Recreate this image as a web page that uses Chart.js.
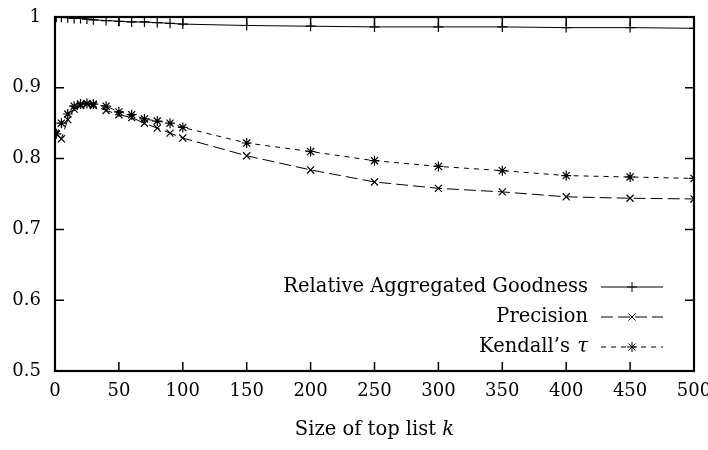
<!DOCTYPE html>
<html>
<head>
<meta charset="utf-8">
<script src="https://cdn.jsdelivr.net/npm/chart.js@4"></script>
<style>
  html, body { margin: 0; padding: 0; background: #fff; }
  #wrap { width: 708px; height: 450px; }
</style>
</head>
<body>
<div id="wrap"><canvas id="topk"></canvas></div>
<script>
const kValues = [1, 5, 10, 15, 20, 25, 30, 40, 50, 60, 70, 80, 90, 100, 150, 200, 250, 300, 350, 400, 450, 500];
const goodness = [1.0, 0.9995, 0.999, 0.998, 0.998, 0.997, 0.996, 0.995, 0.994, 0.993, 0.993, 0.992, 0.991, 0.990, 0.988, 0.987, 0.986, 0.986, 0.986, 0.985, 0.985, 0.984];
const precision = [0.835, 0.828, 0.855, 0.870, 0.875, 0.877, 0.875, 0.868, 0.862, 0.858, 0.850, 0.843, 0.836, 0.829, 0.804, 0.784, 0.767, 0.758, 0.753, 0.746, 0.744, 0.743];
const kendall = [0.835, 0.850, 0.863, 0.874, 0.877, 0.878, 0.877, 0.874, 0.866, 0.862, 0.856, 0.853, 0.850, 0.844, 0.822, 0.810, 0.797, 0.789, 0.783, 0.776, 0.774, 0.772];
const xTicks = [0, 50, 100, 150, 200, 250, 300, 350, 400, 450, 500];
const yTicks = [0.5, 0.6, 0.7, 0.8, 0.9, 1];

const FONT = '"DejaVu Serif", "Liberation Serif", serif';
const TXT = 19.5;
const toPts = ys => kValues.map((k, i) => ({ x: k, y: ys[i] }));

const series = [
  { label: 'Relative Aggregated Goodness', data: goodness, dash: [], point: 'cross' },
  { label: 'Precision', data: precision, dash: [12, 5], point: 'crossRot' },
  { label: "Kendall\u2019s ", italic: 'τ', data: kendall, dash: [5, 5], point: 'star' }
];

// box, inward ticks, legend and x title, gnuplot style
const frame = {
  id: 'frame',
  afterDatasetsDraw(chart) {
    const { ctx, chartArea: a, scales: { x, y } } = chart;
    ctx.save();
    ctx.strokeStyle = '#000';
    ctx.lineWidth = 1.5;
    ctx.beginPath();
    xTicks.forEach(v => {
      const px = x.getPixelForValue(v);
      ctx.moveTo(px, a.bottom); ctx.lineTo(px, a.bottom - 9);
      ctx.moveTo(px, a.top); ctx.lineTo(px, a.top + 9);
    });
    yTicks.forEach(v => {
      const py = y.getPixelForValue(v);
      ctx.moveTo(a.left, py); ctx.lineTo(a.left + 9, py);
      ctx.moveTo(a.right, py); ctx.lineTo(a.right - 9, py);
    });
    ctx.stroke();
    ctx.lineWidth = 2.2;
    ctx.strokeRect(a.left, a.top, a.right - a.left, a.bottom - a.top);

    // legend
    const f = TXT + 'px ' + FONT, fi = 'italic ' + TXT + 'px ' + FONT;
    ctx.font = f;
    ctx.fillStyle = '#000';
    ctx.textBaseline = 'middle';
    const rowY = [287, 317, 347];
    const textRight = 588, x0 = 601, x1 = 663;
    series.forEach((s, i) => {
      const ry = rowY[i];
      ctx.textAlign = 'right';
      if (s.italic) {
        ctx.font = fi;
        const w = ctx.measureText(s.italic).width;
        ctx.fillText(s.italic, textRight, ry);
        ctx.font = f;
        ctx.fillText(s.label, textRight - w - 1, ry);
      } else {
        ctx.fillText(s.label, textRight, ry);
      }
      ctx.lineWidth = 1;
      ctx.setLineDash(s.dash);
      ctx.beginPath();
      ctx.moveTo(x0, ry); ctx.lineTo(x1, ry);
      ctx.stroke();
      ctx.setLineDash([]);
      Chart.helpers.drawPoint(ctx, { pointStyle: s.point, radius: 5, borderWidth: 1.2 }, (x0 + x1) / 2, ry);
    });

    // x axis title with italic k
    ctx.textAlign = 'left';
    const t1 = 'Size of top list ';
    ctx.font = fi;
    const wk = ctx.measureText('k').width;
    ctx.font = f;
    const w1 = ctx.measureText(t1).width;
    const sx = (a.left + a.right) / 2 - (w1 + wk) / 2;
    ctx.fillText(t1, sx, 430);
    ctx.font = fi;
    ctx.fillText('k', sx + w1, 430);
    ctx.restore();
  }
};

new Chart(document.getElementById('topk'), {
  type: 'line',
  data: {
    datasets: series.map(s => ({
      label: s.label,
      data: toPts(s.data),
      borderColor: '#000',
      backgroundColor: '#000',
      borderWidth: 1,
      borderDash: s.dash,
      pointStyle: s.point,
      pointRadius: 5,
      pointBorderWidth: 1.2,
      pointBorderColor: '#000',
      tension: 0,
      fill: false
    }))
  },
  options: {
    responsive: true,
    maintainAspectRatio: false,
    animation: false,
    layout: { padding: { top: 17, right: 14, left: 0, bottom: 0 } },
    plugins: { legend: { display: false }, tooltip: { enabled: false } },
    scales: {
      x: {
        type: 'linear',
        min: 0,
        max: 500,
        afterBuildTicks: s => { s.ticks = xTicks.map(v => ({ value: v })); },
        afterFit: s => { s.height = 79; s.paddingLeft = 0; s.paddingRight = 0; },
        grid: { display: false, drawTicks: false },
        border: { display: false },
        ticks: { color: '#000', padding: 10, maxRotation: 0, font: { family: FONT, size: 18 } }
      },
      y: {
        type: 'linear',
        min: 0.5,
        max: 1,
        afterBuildTicks: s => { s.ticks = yTicks.map(v => ({ value: v })); },
        afterFit: s => { s.width = 55; s.paddingTop = 0; s.paddingBottom = 0; },
        grid: { display: false, drawTicks: false },
        border: { display: false },
        ticks: {
          color: '#000',
          padding: 14,
          font: { family: FONT, size: 18 },
          callback: v => String(Math.round(v * 10) / 10)
        }
      }
    }
  },
  plugins: [frame]
});
</script>
</body>
</html>
